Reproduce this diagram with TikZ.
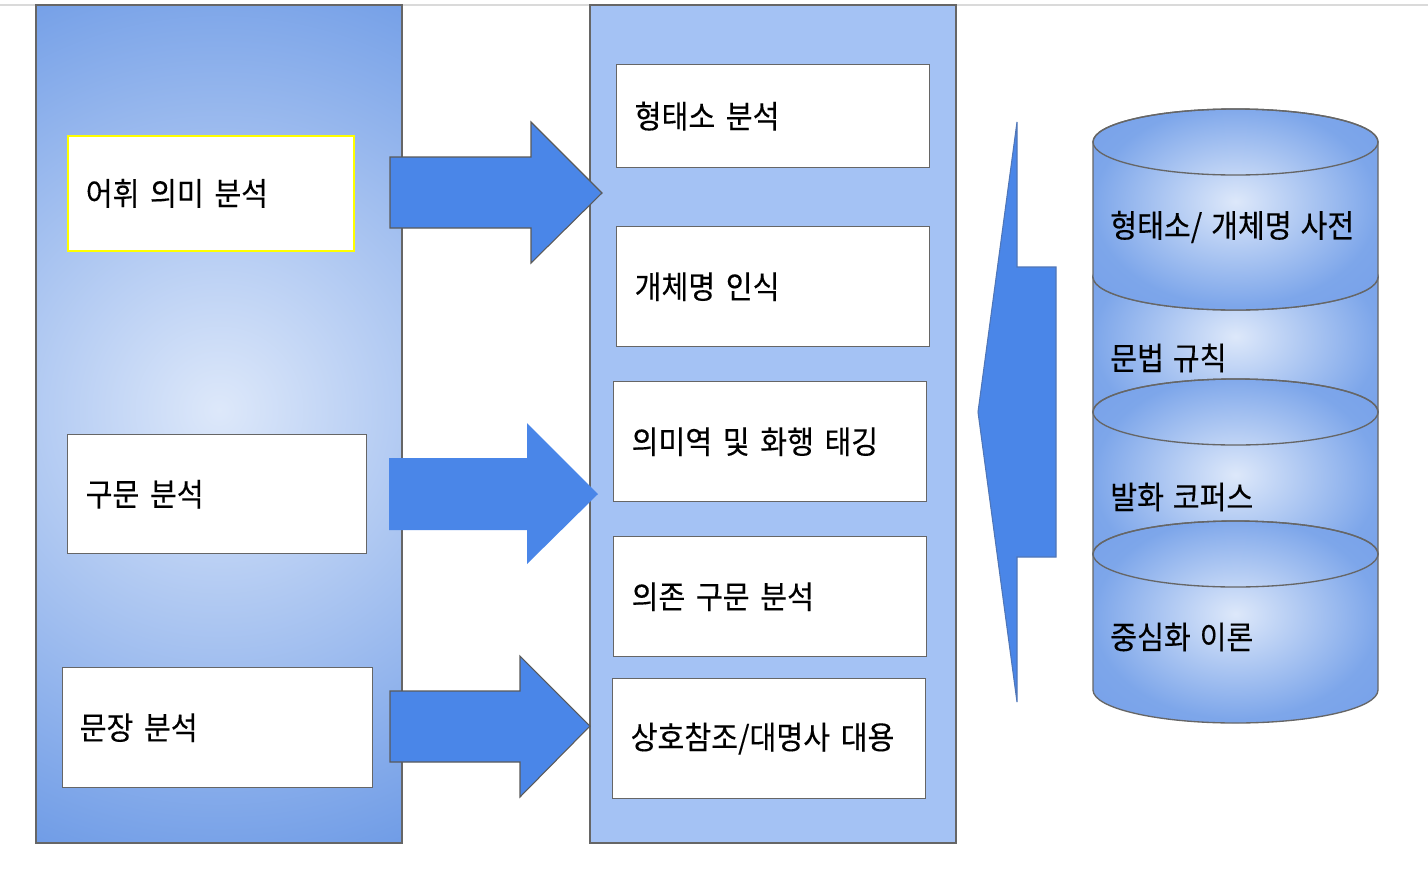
\documentclass[tikz,border=0pt]{standalone}
\usepackage{fontspec}
\setmainfont{Noto Sans CJK KR}[FakeStretch=0.92, FakeBold=0.25, WordSpace=1.35]
\definecolor{arrowblue}{HTML}{4A86E8}
\definecolor{arrowedge}{HTML}{5A5A5A}
\definecolor{leftedge}{HTML}{4F76B8}
\definecolor{midpanel}{HTML}{A4C2F4}
\definecolor{bordergray}{HTML}{666666}
\definecolor{topline}{HTML}{DADADA}
\definecolor{pinner}{HTML}{DDE8FA}
\definecolor{pouter}{HTML}{6E9BE6}
\definecolor{cinner}{HTML}{DDE8FA}
\definecolor{couter}{HTML}{7DA6EA}
\definecolor{ccorner}{HTML}{76A0E9}
\definecolor{yellowedge}{HTML}{FFFF00}
\pgfdeclareradialshading{panelshade}{\pgfpoint{0bp}{0bp}}{color(0bp)=(pinner); color(25bp)=(pouter); color(50bp)=(pouter)}
\pgfdeclareradialshading{cylshade}{\pgfpoint{0bp}{2bp}}{color(0bp)=(cinner); color(25bp)=(couter); color(36bp)=(ccorner); color(50bp)=(ccorner)}
\tikzset{
  lbl/.style={font=\fontsize{23.8pt}{28pt}\selectfont, text=black},
  box/.style={lbl, draw=bordergray, fill=white, line width=1pt, anchor=north west,
    align=left, inner xsep=13.5pt, inner ysep=0pt},
  panelline/.style={draw=bordergray, line width=1pt},
  bigarrow/.style={fill=arrowblue, draw=arrowedge, line width=0.8pt, line join=miter},
}
\newcommand\mycyl[2]{%
  \shade[shading=cylshade, draw=bordergray, line width=1pt]
    (1093,-#1) -- (1093,-#2)
    arc[start angle=180, end angle=360, x radius=142.5, y radius=33]
    -- (1378,-#1)
    arc[start angle=0, end angle=180, x radius=142.5, y radius=33] -- cycle;
  \draw[bordergray, line width=1pt]
    (1235.5,-#1) ellipse [x radius=142.5, y radius=33];
}
\begin{document}
\begin{tikzpicture}[x=0.75pt, y=0.75pt]
\useasboundingbox (0,0) rectangle (1428,-868);
\fill[white] (0,0) rectangle (1428,-868);
% top rule
\draw[topline, line width=1.5pt] (0,-4.5) -- (1428,-4.5);

% left panel with radial gradient
\begin{scope}
  \clip (36,-5) rectangle (402,-843);
  \shade[shading=panelshade] (219,-410) circle (478);
\end{scope}
\draw[panelline] (36,-5) rectangle (402,-843);

% middle panel
\fill[midpanel] (590,-5) rectangle (956,-843);
\draw[panelline] (590,-5) rectangle (956,-843);

% right-pointing block arrows
\draw[bigarrow] (390,-157) -- (531,-157) -- (531,-122) -- (602,-193) -- (531,-263) -- (531,-228) -- (390,-228) -- cycle;
\fill[arrowblue] (389,-458) -- (527,-458) -- (527,-423) -- (598,-494) -- (527,-564) -- (527,-530) -- (389,-530) -- cycle;
\draw[bigarrow] (390,-691) -- (520,-691) -- (520,-656) -- (590,-726) -- (520,-797) -- (520,-762) -- (390,-762) -- cycle;

% left boxes
\node[box, draw=yellowedge, line width=1.2pt, text width=187.5pt, minimum height=86.25pt] (lex) at (67,-135) {어휘 의미 분석};
\node[box, text width=197.25pt, minimum height=89.25pt] (syn) at (67,-434) {구문 분석};
\node[box, text width=207pt, minimum height=90pt, inner xsep=12.75pt] (sent) at (62,-667) {문장 분석};

% middle boxes
\node[box, text width=207.75pt, minimum height=77.25pt] (morph) at (616,-64) {형태소 분석};
\node[box, text width=207.75pt, minimum height=90pt] (ner) at (616,-226) {개체명 인식};
\node[box, text width=207.75pt, minimum height=90pt] (srl) at (613,-381) {의미역 및 화행 태깅};
\node[box, text width=207.75pt, minimum height=90pt] (dep) at (613,-536) {의존 구문 분석};
\node[box, text width=207.75pt, minimum height=90pt] (coref) at (612,-678) {상호참조/대명사 대용};

% left-pointing arrow
\draw[fill=arrowblue, draw=leftedge, line width=0.8pt, line join=miter]
  (978,-412) -- (1017,-122) -- (1017,-267) -- (1056,-267) -- (1056,-557) -- (1017,-557) -- (1017,-702) -- cycle;

% stacked cylinders
\mycyl{277}{412}
\mycyl{142}{277}
\mycyl{412}{554}
\mycyl{554}{690}

\node[lbl, anchor=west, inner sep=0pt] (dict) at (1110,-227) {형태소/ 개체명 사전};
\node[lbl, anchor=west, inner sep=0pt] (gram) at (1110,-358) {문법 규칙};
\node[lbl, anchor=west, inner sep=0pt] (corp) at (1110,-497) {발화 코퍼스};
\node[lbl, anchor=west, inner sep=0pt] (cent) at (1110,-637) {중심화 이론};
\end{tikzpicture}
\end{document}
